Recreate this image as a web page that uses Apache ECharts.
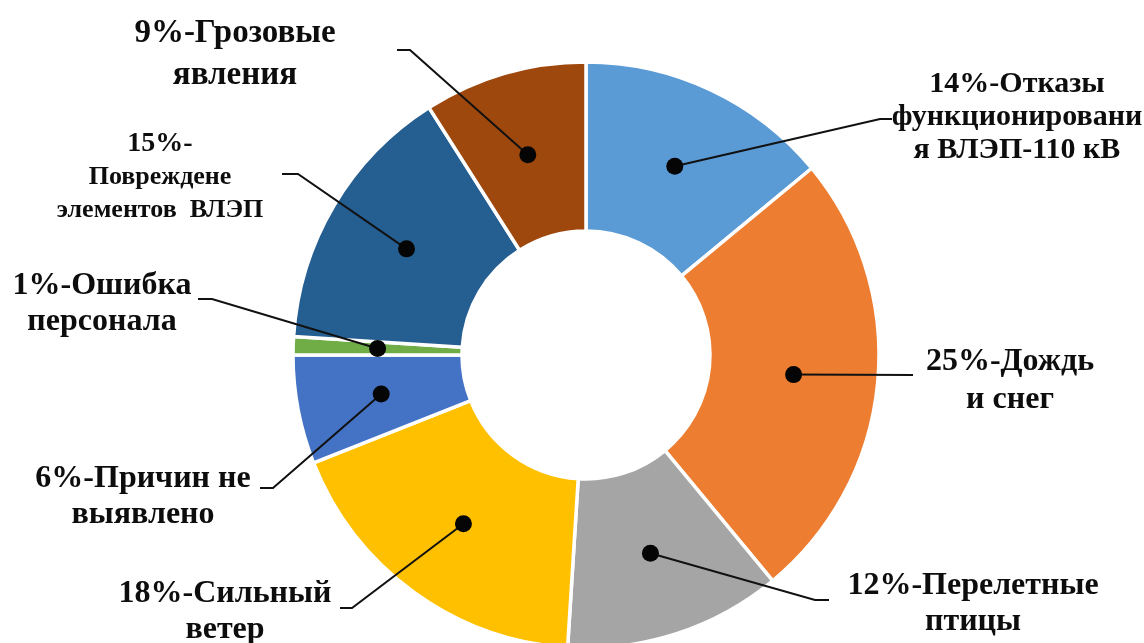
<!DOCTYPE html>
<html>
<head>
<meta charset="utf-8">
<script src="https://cdn.jsdelivr.net/npm/echarts@6/dist/echarts.min.js"></script>
<style>
  html, body { margin: 0; padding: 0; background: #ffffff; }
  #chart { width: 1144px; height: 643px; }
</style>
</head>
<body>
<div id="chart"></div>
<script>
// Причины отключений ВЛЭП, доля в процентах
const causes = [
  'Отказы\nфункционировани\nя ВЛЭП-110 кВ',
  'Дождь\nи снег',
  'Перелетные\nптицы',
  'Сильный\nветер',
  'Причин не\nвыявлено',
  'Ошибка\nперсонала',
  '\nПовреждене\nэлементов  ВЛЭП',
  'Грозовые\nявления'
];
const shares = [14, 25, 12, 18, 6, 1, 15, 9];
const sliceColors = ['#5B9BD5', '#ED7D31', '#A5A5A5', '#FFC000', '#4472C4', '#70AD47', '#255E91', '#9E480E'];

// Ring geometry
const CENTER = [586, 355];
const R_IN = 124;
const R_OUT = 293;
const R_MID = (R_IN + R_OUT) / 2;

// Callout placement: label centre (x, y), elbow of the leader (ex, ey), leader end x (tx),
// font size of the first line (fs), of the other lines (fs2), line height (lh)
const callouts = [
  { x: 1017, y: 117, ex: 880, ey: 119, tx: 892, fs: 30, fs2: 30, lh: 33 },
  { x: 1010, y: 381, ex: 913, ey: 375, tx: 913, fs: 32, fs2: 32, lh: 38 },
  { x: 973,  y: 604, ex: 815, ey: 600, tx: 829, fs: 32, fs2: 32, lh: 36 },
  { x: 225,  y: 612, ex: 352, ey: 608, tx: 340, fs: 32, fs2: 32, lh: 36 },
  { x: 143,  y: 497, ex: 273, ey: 488, tx: 260, fs: 32, fs2: 32, lh: 36 },
  { x: 102,  y: 304, ex: 212, ey: 299, tx: 198, fs: 32, fs2: 32, lh: 36 },
  { x: 160,  y: 177, ex: 298, ey: 174, tx: 282, fs: 28, fs2: 26, lh: 33 },
  { x: 235,  y: 54,  ex: 410, ey: 50,  tx: 397, fs: 33, fs2: 33, lh: 42 }
];

const total = shares.reduce((a, b) => a + b, 0);
const midShares = [];
let acc = 0;
shares.forEach(v => {
  const p = v / total * 100;
  midShares.push(acc + p / 2);
  acc += p;
});

const FONT = "'Liberation Serif', 'Times New Roman', serif";
const INK = '#0d0d0d';

const ringData = shares.map((v, i) => ({
  value: v, name: causes[i], itemStyle: { color: sliceColors[i] }
}));

const labelData = shares.map((v, i) => {
  const c = callouts[i];
  return {
    value: v,
    name: causes[i],
    label: {
      lineHeight: c.lh,
      rich: {
        h: { fontSize: c.fs, lineHeight: c.lh, fontFamily: FONT, fontWeight: 'bold', color: INK },
        t: { fontSize: c.fs2, lineHeight: c.lh, fontFamily: FONT, fontWeight: 'bold', color: INK }
      }
    }
  };
});

const chart = echarts.init(document.getElementById('chart'), null, { renderer: 'canvas' });

chart.setOption({
  backgroundColor: '#ffffff',
  animation: false,
  polar: { center: CENTER, radius: [R_IN, R_OUT] },
  angleAxis: { type: 'value', min: 0, max: 100, startAngle: 90, clockwise: true, show: false },
  radiusAxis: { type: 'value', min: 0, max: 2, show: false },
  series: [
    {
      type: 'pie',
      center: CENTER,
      radius: [R_IN, R_OUT],
      startAngle: 90,
      clockwise: true,
      silent: true,
      label: { show: false },
      labelLine: { show: false },
      itemStyle: { borderColor: '#ffffff', borderWidth: 3.5 },
      data: ringData,
      z: 1
    },
    {
      type: 'pie',
      center: CENTER,
      radius: [0, R_MID],
      startAngle: 90,
      clockwise: true,
      silent: true,
      itemStyle: { color: 'rgba(0,0,0,0)' },
      label: {
        show: true,
        position: 'outside',
        align: 'center',
        formatter: function (p) {
          const lines = (p.value + '%-' + p.name).split('\n');
          return lines.map((s, k) => (k === 0 ? '{h|' : '{t|') + s + '}').join('\n');
        }
      },
      labelLine: {
        show: true,
        length: 10,
        length2: 10,
        lineStyle: { color: '#111111', width: 2 }
      },
      labelLayout: function (p) {
        const c = callouts[p.dataIndex];
        const start = p.labelLinePoints ? p.labelLinePoints[0] : CENTER;
        return {
          x: c.x,
          y: c.y,
          align: 'center',
          verticalAlign: 'middle',
          labelLinePoints: [start, [c.ex, c.ey], [c.tx, c.ey]]
        };
      },
      data: labelData,
      z: 2
    },
    {
      type: 'scatter',
      coordinateSystem: 'polar',
      symbol: 'circle',
      symbolSize: 17,
      silent: true,
      itemStyle: { color: '#050505', opacity: 1 },
      data: midShares.map(m => [1, m]),
      z: 3
    }
  ]
});
</script>
</body>
</html>
